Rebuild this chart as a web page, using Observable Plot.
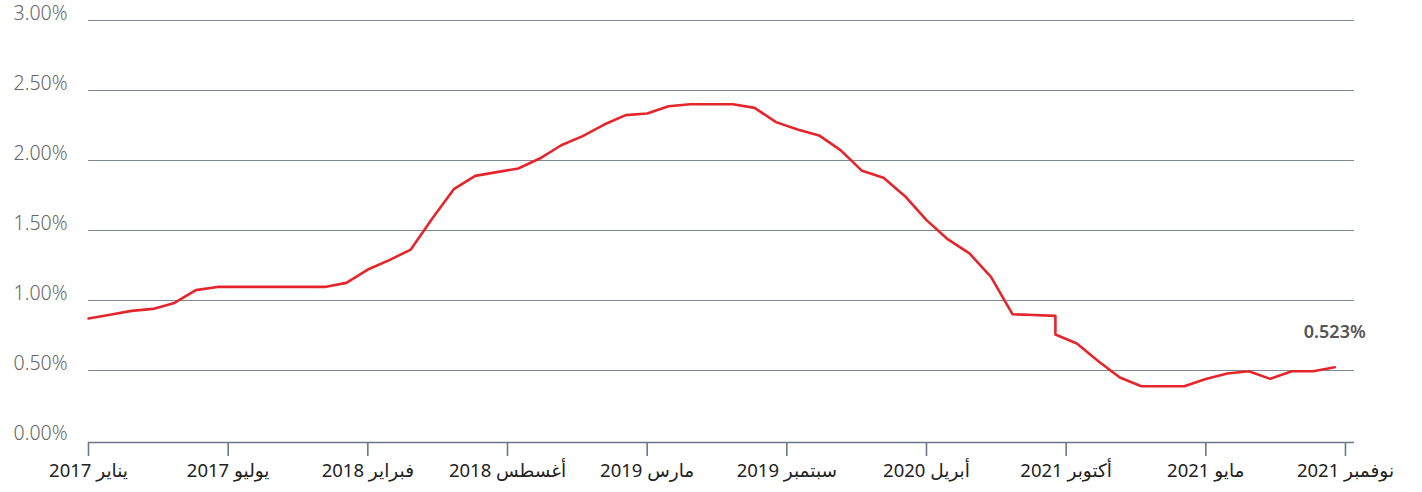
<!DOCTYPE html>
<html>
<head>
<meta charset="utf-8">
<script src="https://cdn.jsdelivr.net/npm/d3@7"></script>
<script src="https://cdn.jsdelivr.net/npm/@observablehq/plot@0.6"></script>
<style>
  body { margin: 0; background: #fff; }
  #chart { width: 1422px; height: 492px; }
</style>
</head>
<body>
<div id="chart"></div>
<script>
// month index since January 2017
const months = [0,1,2,3,4,5,6,7,8,9,10,11,12,13,14,15,16,17,18,19,20,21,22,23,24,25,26,27,28,29,30,31,32,33,34,35,36,37,38,39,40,41,42,43,44,45,45,46,47,48,49,50,51,52,53,54,55,56,57,58];
const rates = [0.871,0.898,0.926,0.940,0.983,1.074,1.097,1.097,1.097,1.097,1.097,1.097,1.126,1.221,1.288,1.364,1.586,1.795,1.890,1.917,1.943,2.014,2.109,2.174,2.257,2.324,2.336,2.388,2.402,2.402,2.402,2.376,2.274,2.221,2.179,2.074,1.926,1.876,1.745,1.574,1.436,1.336,1.169,0.902,0.896,0.890,0.757,0.693,0.566,0.450,0.388,0.388,0.388,0.440,0.478,0.495,0.440,0.495,0.495,0.523];

const tickPositions = [0, 6.5, 13, 19.5, 26, 32.5, 39, 45.5, 52, 58.5];
const tickLabels = ["يناير 2017","يوليو 2017","فبراير 2018","أغسطس 2018","مارس 2019","سبتمبر 2019","أبريل 2020","أكتوبر 2021","مايو 2021","نوفمبر 2021"];
const yTicks = [0, 0.5, 1, 1.5, 2, 2.5, 3];
const gridTicks = [0.5, 1, 1.5, 2, 2.5, 3];
const lastLabel = "0.523%";

const series = months.map((m, i) => ({month: m, rate: rates[i]}));
const xTicks = tickPositions.map((p, i) => ({pos: p, label: tickLabels[i]}));
const last = series[series.length - 1];

const chart = Plot.plot({
  width: 1422,
  height: 492,
  marginLeft: 88,
  marginRight: 68,
  marginTop: 20,
  marginBottom: 52,
  style: {fontFamily: "'Noto Sans', 'DejaVu Sans', sans-serif", background: "#fff"},
  x: {domain: [0, 58.92], axis: null},
  y: {domain: [0, 3], axis: null},
  marks: [
    Plot.ruleY(gridTicks, {stroke: "#7d8794", strokeWidth: 1}),
    Plot.ruleY([0], {stroke: "#6e7883", strokeWidth: 1.6, dy: 2}),
    Plot.ruleX(xTicks, {x: "pos", y1: 0, y2: -0.1, stroke: "#6e7883", strokeWidth: 1.6, dy: 2}),
    Plot.text(xTicks, {x: "pos", text: "label", frameAnchor: "bottom", dy: 31, lineAnchor: "middle", textAnchor: "middle", fontSize: 18.5, fill: "#222"}),
    Plot.text(yTicks, {y: d => d, text: d => d3.format(".2f")(d) + "%", frameAnchor: "left", dx: -21, dy: -6.5, lineAnchor: "middle", textAnchor: "end", fontSize: 19.5, fontWeight: 300, fill: "#666", ariaLabel: "ylabels"}),
    Plot.line(series, {x: "month", y: "rate", stroke: "#e4262c", strokeWidth: 2.6, curve: "linear"}),
    Plot.text([last], {x: "month", y: "rate", text: () => lastLabel, dy: -35, lineAnchor: "middle", textAnchor: "middle", fontSize: 18, fontWeight: 600, fill: "#555"})
  ]
});
d3.select(chart).selectAll('g[aria-label="ylabels"]').style("letter-spacing", "0.6px");
document.getElementById("chart").appendChild(chart);
</script>
</body>
</html>
